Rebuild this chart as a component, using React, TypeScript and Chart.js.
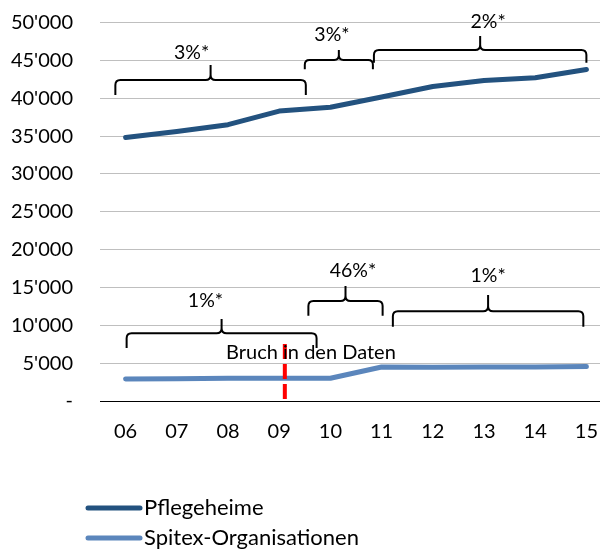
import React, { useEffect, useRef } from "react";
import { Chart, registerables } from "chart.js";

Chart.register(...registerables);

// ---- data ----
const years = ["06", "07", "08", "09", "10", "11", "12", "13", "14", "15"];
const pflegeheime = [34800, 35600, 36500, 38300, 38800, 40150, 41550, 42350, 42700, 43800];
const spitex = [2900, 2950, 3000, 3000, 3000, 4500, 4450, 4500, 4500, 4550];
const seriesNames = ["Pflegeheime", "Spitex-Organisationen"];
const seriesColors = ["#23527F", "#5B86BC"];
const yMin = 0;
const yMax = 50000;
const yStep = 5000;

// growth brackets (x in category-index units, y in data units)
const bracketLabels = ["3%*", "3%*", "2%*", "1%*", "46%*", "1%*"];
const bracketFrom = [-0.2, 3.5, 4.85, 0.02, 3.57, 5.22];
const bracketTo = [3.52, 4.83, 9.0, 3.73, 5.02, 8.94];
const bracketLevel = [42400, 45050, 46370, 8940, 13210, 11850];
const bracketEnd = [40420, 43820, 44690, 7000, 11270, 9820];
const bracketPeak = [44390, 46370, 48220, 10830, 15190, 14000];
const bracketLabelX = [1.29, 4.03, 7.08, 1.56, 4.44, 7.08];
const bracketLabelY = [46000, 48350, 50100, 13210, 17210, 16510];

const breakLabel = "Bruch in den Daten";
const breakX = 3.11;
const breakTop = 7530;
const breakLabelX = 3.62;
const breakLabelY = 6380;

const FONT = 'Lato, "Liberation Sans", sans-serif';

const fmt = (v: number) =>
  v === 0 ? "-" : String(v).replace(/\B(?=(\d{3})+(?!\d))/g, "'");

const annotPlugin = {
  id: "annot",
  afterDatasetsDraw(chart: any) {
    const { ctx } = chart;
    const x = chart.scales.x;
    const y = chart.scales.y;
    ctx.save();
    // red break line
    ctx.strokeStyle = "#FF0000";
    ctx.lineWidth = 4;
    ctx.setLineDash([15, 5]);
    ctx.beginPath();
    const bx = x.getPixelForValue(breakX);
    ctx.moveTo(bx, y.getPixelForValue(breakTop));
    ctx.lineTo(bx, y.getPixelForValue(0));
    ctx.stroke();
    ctx.setLineDash([]);

    ctx.fillStyle = "#000";
    ctx.font = `20px ${FONT}`;
    ctx.textAlign = "center";
    ctx.textBaseline = "middle";
    ctx.fillText(breakLabel, x.getPixelForValue(breakLabelX), y.getPixelForValue(breakLabelY));

    // brackets
    ctx.font = `19.5px ${FONT}`;
    ctx.strokeStyle = "#000";
    ctx.lineWidth = 2;
    ctx.lineJoin = "round";
    bracketLabels.forEach((lab, i) => {
      const x1 = x.getPixelForValue(bracketFrom[i]);
      const x2 = x.getPixelForValue(bracketTo[i]);
      const xm = (x1 + x2) / 2;
      const yh = y.getPixelForValue(bracketLevel[i]);
      const ye = y.getPixelForValue(bracketEnd[i]);
      const yp = y.getPixelForValue(bracketPeak[i]);
      const r = Math.min(5, (ye - yh) / 2, (yh - yp) / 2);
      ctx.beginPath();
      ctx.moveTo(x1, ye);
      ctx.lineTo(x1, yh + r);
      ctx.quadraticCurveTo(x1, yh, x1 + r, yh);
      ctx.lineTo(xm - r, yh);
      ctx.quadraticCurveTo(xm, yh, xm, yh - r);
      ctx.lineTo(xm, yp);
      ctx.moveTo(xm, yp);
      ctx.lineTo(xm, yh - r);
      ctx.quadraticCurveTo(xm, yh, xm + r, yh);
      ctx.lineTo(x2 - r, yh);
      ctx.quadraticCurveTo(x2, yh, x2, yh + r);
      ctx.lineTo(x2, ye);
      ctx.stroke();
      ctx.fillText(lab, x.getPixelForValue(bracketLabelX[i]), y.getPixelForValue(bracketLabelY[i]));
    });
    ctx.restore();
  },
  afterDraw(chart: any) {
    const { ctx } = chart;
    ctx.save();
    ctx.font = `22px ${FONT}`;
    ctx.textAlign = "left";
    ctx.textBaseline = "middle";
    ctx.fillStyle = "#000";
    chart.data.datasets.forEach((ds: any, i: number) => {
      const ly = 508 + i * 30;
      ctx.strokeStyle = ds.borderColor;
      ctx.lineWidth = 5;
      ctx.lineCap = "round";
      ctx.beginPath();
      ctx.moveTo(88, ly);
      ctx.lineTo(140, ly);
      ctx.stroke();
      ctx.fillText(ds.label, 144, ly);
    });
    ctx.restore();
  },
};

export default function App() {
  const ref = useRef<HTMLCanvasElement>(null);
  useEffect(() => {
    if (!ref.current) return;
    const chart = new Chart(ref.current, {
      type: "line",
      data: {
        labels: years,
        datasets: [
          {
            label: seriesNames[0],
            data: pflegeheime,
            borderColor: seriesColors[0],
            backgroundColor: seriesColors[0],
            borderWidth: 5,
            pointRadius: 0,
            borderCapStyle: "round",
            borderJoinStyle: "round",
            tension: 0,
          },
          {
            label: seriesNames[1],
            data: spitex,
            borderColor: seriesColors[1],
            backgroundColor: seriesColors[1],
            borderWidth: 5,
            pointRadius: 0,
            borderCapStyle: "round",
            borderJoinStyle: "round",
            tension: 0,
          },
        ],
      },
      options: {
        responsive: false,
        animation: false,
        layout: { padding: { top: 22.5, right: 0, bottom: 88, left: 0 } },
        plugins: { legend: { display: false }, tooltip: { enabled: false } },
        scales: {
          x: {
            offset: true,
            grid: { display: false, drawTicks: false },
            border: { display: true, color: "#000", width: 1 },
            ticks: {
              color: "#000",
              font: { family: FONT, size: 20 },
              padding: 19,
              maxRotation: 0,
              autoSkip: false,
            },
            afterFit: (s: any) => {
              s.height = 60;
              s.paddingLeft = 0;
              s.paddingRight = 0;
            },
          },
          y: {
            min: yMin,
            max: yMax,
            ticks: {
              stepSize: yStep,
              color: "#000",
              font: { family: FONT, size: 20 },
              padding: 27,
              callback: (v: any) => fmt(Number(v)),
            },
            grid: {
              color: (c: any) => (c.tick && c.tick.value === 0 ? "#000" : "#BFBFBF"),
              lineWidth: 1,
              drawTicks: false,
            },
            border: { display: false },
            afterFit: (s: any) => {
              s.width = 100;
              s.paddingTop = 0;
              s.paddingBottom = 0;
            },
          },
        },
      },
      plugins: [annotPlugin],
    });
    return () => chart.destroy();
  }, []);
  return (
    <div
      style={{
        position: "fixed",
        left: 0,
        top: 0,
        width: 600,
        height: 549,
        overflow: "hidden",
        background: "#fff",
      }}
    >
      <canvas ref={ref} width={612} height={549} style={{ display: "block" }} />
    </div>
  );
}
